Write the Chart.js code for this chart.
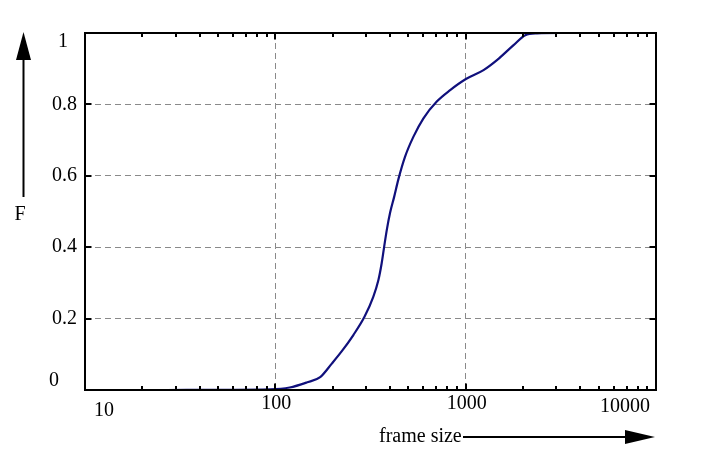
<!DOCTYPE html>
<html>
<head>
<meta charset="utf-8">
<script src="https://cdn.jsdelivr.net/npm/chart.js@4"></script>
<style>
  html, body { margin: 0; padding: 0; background: #fff; }
  #c { display: block; }
</style>
</head>
<body>
<canvas id="c" width="705" height="456"></canvas>
<script>
// data
const frameSize = [27, 94, 119, 146, 172, 198, 223, 257, 294, 327, 348, 362, 373, 385, 401, 421, 443, 480, 531, 600, 705, 829, 1003, 1241, 1460, 1785, 2057, 2370, 3144, 6744];
const cdf = [0, 0.002, 0.007, 0.021, 0.036, 0.074, 0.108, 0.154, 0.205, 0.261, 0.308, 0.355, 0.401, 0.448, 0.497, 0.541, 0.590, 0.653, 0.709, 0.761, 0.808, 0.840, 0.871, 0.896, 0.924, 0.966, 0.994, 0.999, 1.0, 1.0];

const xTicks = [10, 100, 1000, 10000];
const xTickLabels = ['10', '100', '1000', '10000'];
const yTicks = [0, 0.2, 0.4, 0.6, 0.8, 1];
const yTickLabels = ['0', '0.2', '0.4', '0.6', '0.8', '1'];

const FONT = '20px "Liberation Serif", "DejaVu Serif", serif';

// label nudges, like the original (x dx,dy / y dx,dy)
const xLabelShift = [[19, 21], [1, 14], [1, 14], [-31, 17]];
const yLabelShift = [[-26, -9], [-8, 0], [-8, 0], [-8, 0], [-8, 0], [-17, 9]];

const pts = frameSize.map((v, i) => ({ x: v, y: cdf[i] }));

// frame, inward ticks, labels, arrows
const framePlugin = {
  id: 'frame',
  afterDraw(chart) {
    const ctx = chart.ctx;
    const a = chart.chartArea;
    const xs = chart.scales.x, ys = chart.scales.y;
    ctx.save();
    ctx.strokeStyle = '#000';
    ctx.fillStyle = '#000';

    // ticks
    ctx.lineWidth = 2;
    ctx.beginPath();
    for (let d = 10; d < 10000; d *= 10) {
      for (let m = 1; m <= 9; m++) {
        const v = d * m;
        const px = Math.round(xs.getPixelForValue(v));
        const len = m === 1 ? 6.5 : 4;
        ctx.moveTo(px, a.bottom); ctx.lineTo(px, a.bottom - len);
        ctx.moveTo(px, a.top); ctx.lineTo(px, a.top + len);
      }
    }
    yTicks.forEach(v => {
      const py = Math.round(ys.getPixelForValue(v));
      ctx.moveTo(a.left, py); ctx.lineTo(a.left + 6.5, py);
      ctx.moveTo(a.right, py); ctx.lineTo(a.right - 6.5, py);
    });
    ctx.stroke();

    // frame
    ctx.lineWidth = 2;
    ctx.strokeRect(a.left, a.top, a.right - a.left, a.bottom - a.top);

    // tick labels
    ctx.font = FONT;
    ctx.textBaseline = 'middle';
    ctx.textAlign = 'center';
    xTicks.forEach((v, i) => {
      const px = xs.getPixelForValue(v);
      ctx.fillText(xTickLabels[i], px + xLabelShift[i][0], a.bottom + xLabelShift[i][1]);
    });
    ctx.textAlign = 'right';
    yTicks.forEach((v, i) => {
      const py = ys.getPixelForValue(v);
      ctx.fillText(yTickLabels[i], a.left + yLabelShift[i][0], py + yLabelShift[i][1]);
    });

    // y axis label with arrow
    ctx.textAlign = 'center';
    ctx.fillText('F', 20, 215);
    ctx.lineWidth = 2;
    ctx.beginPath();
    ctx.moveTo(23.5, 197); ctx.lineTo(23.5, 58);
    ctx.stroke();
    ctx.beginPath();
    ctx.moveTo(23.5, 32); ctx.lineTo(16, 60); ctx.lineTo(31, 60); ctx.closePath();
    ctx.fill();

    // x axis label with arrow
    ctx.textAlign = 'left';
    ctx.fillText('frame size', 379, 437);
    ctx.beginPath();
    ctx.moveTo(463, 437); ctx.lineTo(628, 437);
    ctx.stroke();
    ctx.beginPath();
    ctx.moveTo(655, 437); ctx.lineTo(625, 430); ctx.lineTo(625, 444); ctx.closePath();
    ctx.fill();
    ctx.restore();
  }
};

new Chart(document.getElementById('c'), {
  type: 'line',
  data: {
    datasets: [{
      data: pts,
      borderColor: '#10107c',
      borderWidth: 2.2,
      pointRadius: 0,
      fill: false,
      cubicInterpolationMode: 'monotone'
    }]
  },
  options: {
    responsive: false,
    animation: false,
    devicePixelRatio: 1,
    layout: { padding: { left: 85, top: 33, right: 49, bottom: 66 } },
    plugins: { legend: { display: false }, tooltip: { enabled: false } },
    scales: {
      x: {
        type: 'logarithmic',
        min: 10,
        max: 10000,
        afterBuildTicks: s => { s.ticks = xTicks.map(v => ({ value: v })); },
        ticks: { display: false },
        grid: {
          drawTicks: false,
          color: c => (c.tick && (c.tick.value === 100 || c.tick.value === 1000)) ? '#8a8a8a' : 'rgba(0,0,0,0)',
          lineWidth: 1
        },
        border: { display: false, dash: [6, 4] }
      },
      y: {
        type: 'linear',
        min: 0,
        max: 1,
        afterBuildTicks: s => { s.ticks = yTicks.map(v => ({ value: v })); },
        ticks: { display: false },
        grid: {
          drawTicks: false,
          color: c => (c.tick && c.tick.value > 0 && c.tick.value < 1) ? '#8a8a8a' : 'rgba(0,0,0,0)',
          lineWidth: 1
        },
        border: { display: false, dash: [6, 4] }
      }
    }
  },
  plugins: [framePlugin]
});
</script>
</body>
</html>
